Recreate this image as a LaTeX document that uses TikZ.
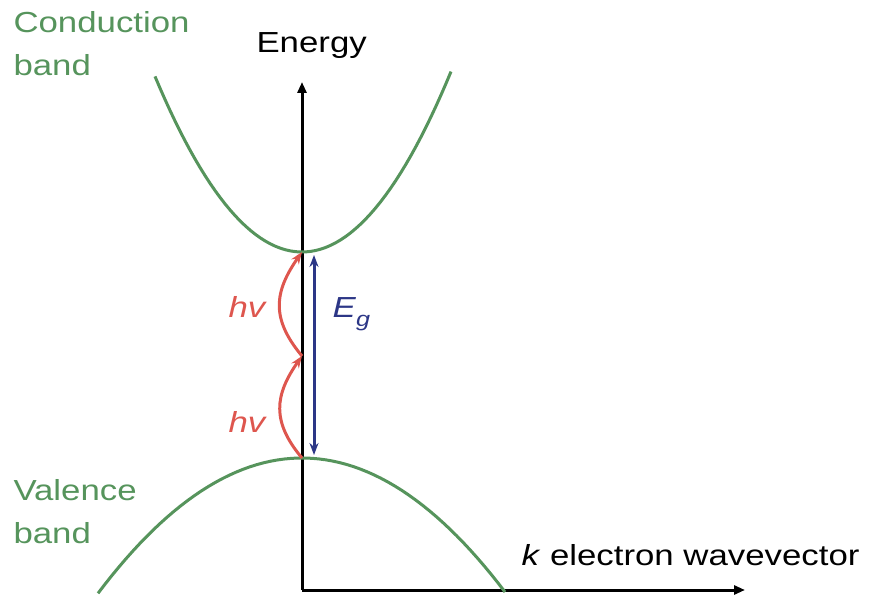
\documentclass[tikz,border=0pt]{standalone}
\usepackage{fontspec}
\setmainfont[FakeStretch=1.2]{Liberation Sans}
\usepackage{tikz}
\usetikzlibrary{arrows.meta, calc, positioning}
\usepackage{xcolor}
\definecolor{bandgreen}{RGB}{86,148,92}
\definecolor{photonred}{RGB}{222,86,78}
\definecolor{gapblue}{RGB}{44,54,134}

\begin{document}
\begin{tikzpicture}[x=1pt, y=1pt, line width=3pt,
  font=\fontsize{29}{42}\selectfont,
  band/.style={bandgreen, line width=3pt},
  photon/.style={photonred, line width=3pt, -{Stealth[length=12pt, width=9pt]}},
  lbl/.style={anchor=base west, inner sep=0pt}]
\useasboundingbox (0,0) rectangle (873,598);

% Axes
\coordinate (origin) at (302,8);
\coordinate (ytip) at (302,516);
\coordinate (xtip) at (745,8);
\draw[-{Triangle[length=11pt, width=9pt]}] (origin) -- (ytip);
\draw[-{Triangle[length=11pt, width=9pt]}] (origin) -- (xtip);
\node[lbl] (energy) at (255,545) {Energy};
\node[lbl] (wavevec) at (520,33) {\textit{k} electron wavevector};

% Conduction band and valence band
\draw[band] plot[domain=155:451, samples=60] (\x, {346+178*((\x-302)/148)^2});
\draw[band] plot[domain=98:505, samples=60] (\x, {140-134*((\x-302)/203)^2});
\node[lbl, bandgreen] (cblabel) at (12,565) {Conduction};
\node[lbl, bandgreen] (cblabel2) at (12,522) {band};
\node[lbl, bandgreen] (vblabel) at (12,98) {Valence};
\node[lbl, bandgreen] (vblabel2) at (12,55) {band};

% Band edges
\coordinate (cbmin) at (302,346);
\coordinate (vbmax) at (302,140);
\coordinate (mid) at (302,242);

% Gap
\draw[gapblue, {Stealth[length=12pt, width=9pt]}-{Stealth[length=12pt, width=9pt]}]
  ($(vbmax)+(12,3)$) -- ($(cbmin)+(12,-3)$);
\node[lbl, gapblue] (gap) at (331,280) {\textit{E}\raisebox{-0.3em}{\fontsize{21}{21}\selectfont\textit{g}}};

% Two-photon absorption
\draw[photon] (vbmax) to[out=130, in=235, looseness=1.2] (mid);
\draw[photon] (mid) to[out=130, in=235, looseness=1.2] (cbmin);
\node[lbl, photonred] (hv1) at (227,280) {\textit{hv}};
\node[lbl, photonred] (hv2) at (227,166) {\textit{hv}};
\end{tikzpicture}
\end{document}
